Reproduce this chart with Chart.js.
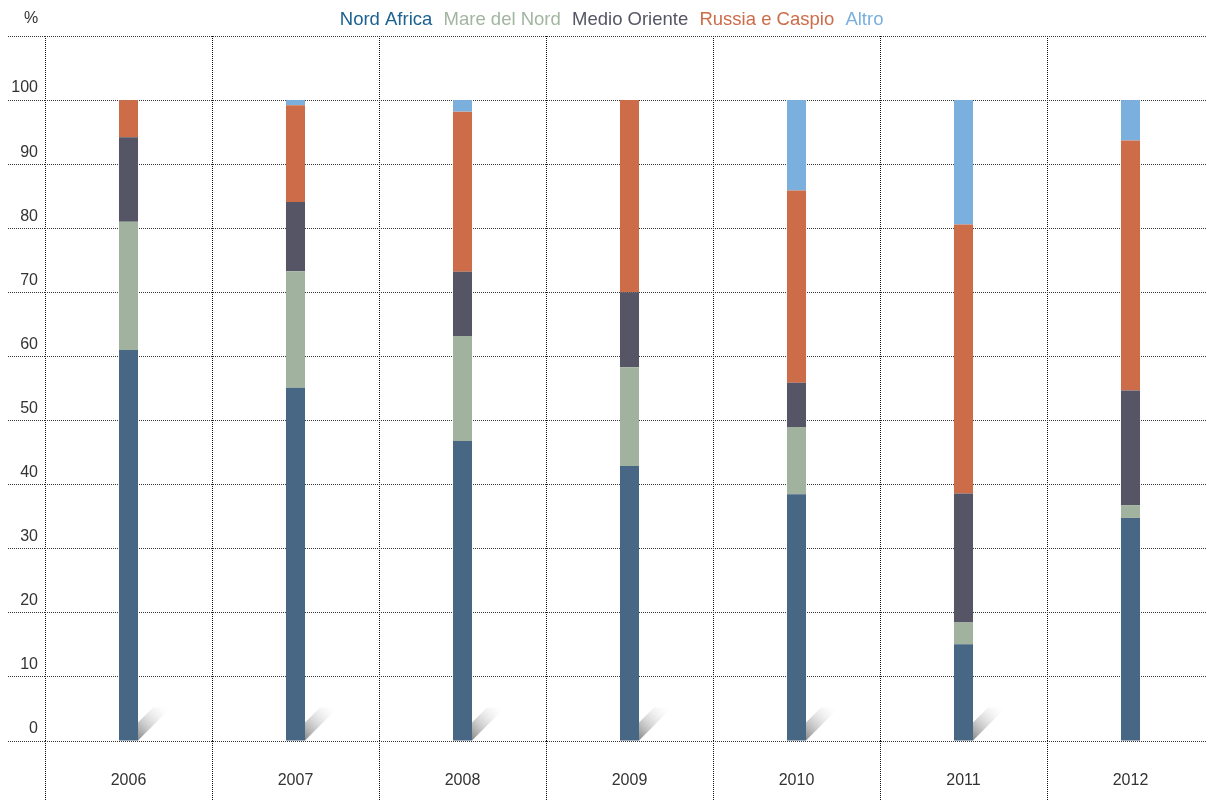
<!DOCTYPE html>
<html><head><meta charset="utf-8">
<script src="https://cdn.jsdelivr.net/npm/chart.js@4/dist/chart.umd.min.js"></script>
<style>
html,body{margin:0;padding:0;background:#fff;overflow:hidden}
#wrap{width:1207px;height:800px;overflow:hidden;position:relative}
canvas{display:block}
</style></head>
<body><div id="wrap"><canvas id="c" width="1214" height="800"></canvas></div>
<script>
const categories = ['2006','2007','2008','2009','2010','2011','2012'];
const nordAfrica   = [61.0, 55.1, 46.8, 42.9, 38.5, 15.1, 34.8];
const mareDelNord  = [20.0, 18.2, 16.4, 15.4, 10.5,  3.4,  2.0];
const medioOriente = [13.2, 10.8, 10.0, 11.7,  6.9, 20.1, 17.9];
const russiaCaspio = [ 5.8, 15.1, 25.0, 30.0, 30.0, 42.0, 39.0];
const altro        = [ 0.0,  0.8,  1.8,  0.0, 14.1, 19.4,  6.3];
const seriesNames  = ['Nord Africa','Mare del Nord','Medio Oriente','Russia e Caspio','Altro'];
const yTickValues  = [0,10,20,30,40,50,60,70,80,90,100];
const yUnit = '%';

const barColors    = ['#476785','#a1b39f','#555566','#cc6c49','#7aafde'];
const legendColors = ['#1b6292','#a1b59f','#555566','#cc6c49','#7aafde'];
const shadowed     = [true,true,true,true,true,true,false];
const FONT = "'Liberation Sans', Arial, Helvetica, sans-serif";

const seriesValues = [nordAfrica, mareDelNord, medioOriente, russiaCaspio, altro];

const shadowPlugin = {
  id: 'barShadow',
  beforeDatasetsDraw(chart) {
    const meta = chart.getDatasetMeta(0);
    const ctx = chart.ctx;
    meta.data.forEach((bar, i) => {
      if (!shadowed[i]) return;
      const p = bar.getProps(['x','base','width'], true);
      const xr = p.x + p.width / 2;
      const y0 = p.base;
      ctx.save();
      const g = ctx.createLinearGradient(xr, y0, xr + 33, y0 - 33);
      g.addColorStop(0, 'rgba(70,70,70,0.65)');
      g.addColorStop(1, 'rgba(255,255,255,0)');
      ctx.fillStyle = g;
      ctx.beginPath();
      ctx.moveTo(xr, y0);
      ctx.lineTo(xr, y0 - 18);
      ctx.lineTo(xr + 15, y0 - 33);
      ctx.lineTo(xr + 33, y0 - 33);
      ctx.closePath();
      ctx.fill();
      ctx.restore();
    });
  }
};

const unitPlugin = {
  id: 'unitLabel',
  afterDraw(chart) {
    const ctx = chart.ctx;
    const ys = chart.scales.y;
    ctx.save();
    ctx.font = '16px ' + FONT;
    ctx.fillStyle = '#333';
    ctx.textAlign = 'center';
    ctx.textBaseline = 'middle';
    ctx.fillText(yUnit, ys.right - 14, chart.chartArea.top - 17);
    ctx.restore();
  }
};

new Chart(document.getElementById('c'), {
  type: 'bar',
  data: {
    labels: categories,
    datasets: seriesNames.map((n, i) => ({
      label: n,
      data: seriesValues[i],
      backgroundColor: barColors[i],
      borderWidth: 0,
      categoryPercentage: 1,
      barPercentage: 0.114
    }))
  },
  options: {
    responsive: false,
    devicePixelRatio: 1,
    animation: false,
    layout: { padding: { top: 9, left: 0, right: 0, bottom: 0 } },
    plugins: {
      tooltip: { enabled: false },
      legend: {
        position: 'top',
        align: 'center',
        maxHeight: 27,
        labels: {
          boxWidth: 0,
          boxHeight: 0,
          padding: 2,
          font: { family: FONT, size: 18.5 },
          generateLabels: chart => chart.data.datasets.map((d, i) => ({
            text: d.label,
            fontColor: legendColors[i],
            fillStyle: 'rgba(0,0,0,0)',
            strokeStyle: 'rgba(0,0,0,0)',
            lineWidth: 0,
            hidden: false,
            datasetIndex: i
          }))
        }
      }
    },
    scales: {
      x: {
        stacked: true,
        offset: true,
        afterFit(s) { s.height = 59; },
        grid: { offset: true, color: '#111', lineWidth: 1, tickLength: 60, tickColor: '#111', tickBorderDash: [1, 1] },
        border: { display: false, dash: [1, 1] },
        ticks: { color: '#333', padding: -30, font: { family: FONT, size: 16 }, maxRotation: 0 }
      },
      y: {
        stacked: true,
        min: 0,
        max: 110,
        afterFit(s) { s.width = 45; },
        afterBuildTicks(s) { s.ticks = yTickValues.concat([110]).map(v => ({ value: v })); },
        grid: { color: '#333', lineWidth: 1, tickLength: 37, tickColor: '#333', tickBorderDash: [1, 1] },
        border: { display: false, dash: [1, 1] },
        ticks: {
          color: '#333',
          padding: -30,
          labelOffset: -12,
          font: { family: FONT, size: 16 },
          callback: v => (yTickValues.includes(v) ? String(v) : '')
        }
      }
    }
  },
  plugins: [shadowPlugin, unitPlugin]
});
</script>
</body></html>
